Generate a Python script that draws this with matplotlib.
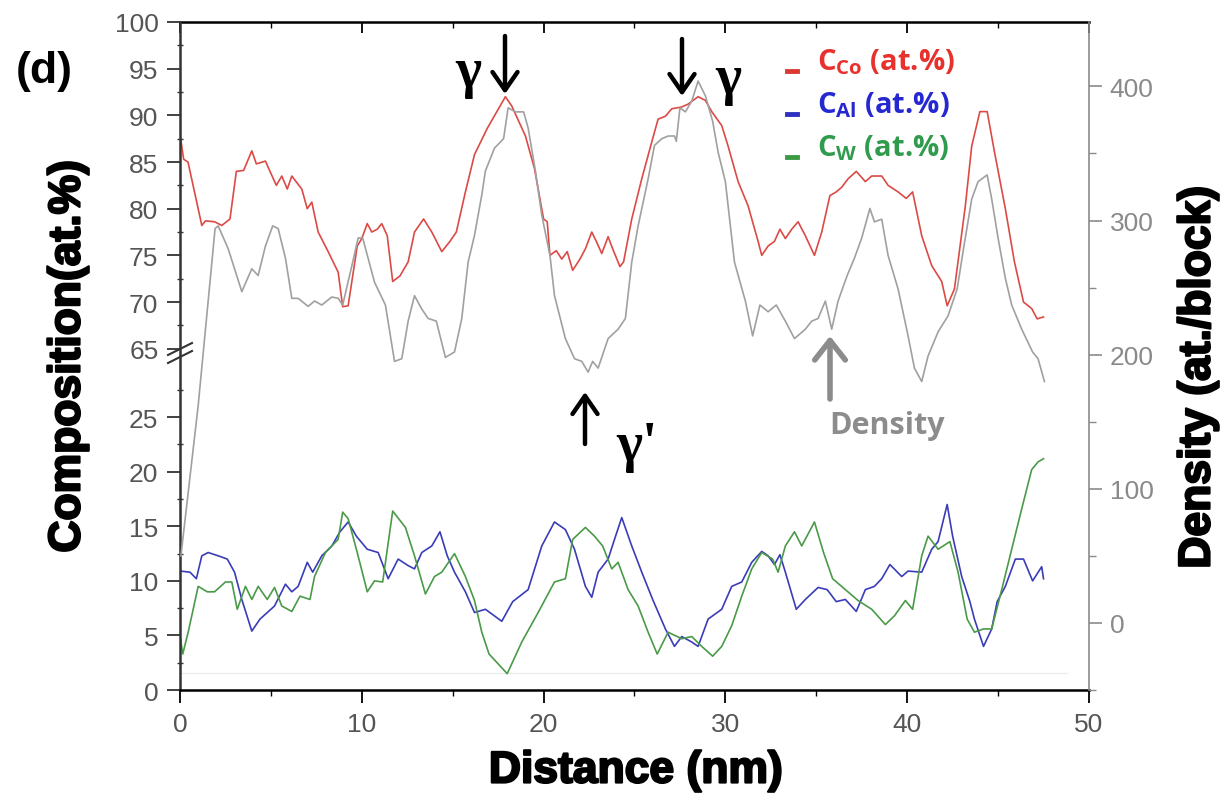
import matplotlib.pyplot as plt
import matplotlib.patheffects as pe
import numpy as np
from matplotlib.lines import Line2D

# composition / density profiles (distance in nm)
CO_PROFILE = [
    (0.0, 88.0), (0.2, 85.3), (0.44, 85.0), (1.2, 78.2), (1.4, 78.7), (1.9, 78.6), (2.3, 78.2),
    (2.75, 78.9), (3.1, 84.0), (3.5, 84.1), (3.95, 86.2), (4.2, 84.8), (4.7, 85.1), (4.95, 84.0),
    (5.3, 82.5), (5.6, 83.5), (5.9, 82.1), (6.15, 83.5), (6.7, 82.1), (7.0, 80.0), (7.25, 80.7),
    (7.6, 77.5), (8.15, 75.4), (8.7, 73.2), (8.95, 69.5), (9.25, 69.6), (9.75, 76.0), (10.0, 76.8),
    (10.3, 78.4), (10.55, 77.5), (10.85, 77.8), (11.1, 78.4), (11.4, 77.1), (11.7, 72.2),
    (12.1, 72.8), (12.55, 74.3), (12.9, 77.5), (13.4, 78.9), (13.85, 77.5), (14.4, 75.4),
    (14.85, 76.5), (15.2, 77.5), (15.7, 81.8), (16.2, 85.8), (16.9, 88.6), (17.9, 92.0),
    (18.25, 91.0), (19.0, 87.8), (19.5, 84.3), (20.0, 78.9), (20.2, 78.6), (20.35, 75.0),
    (20.7, 75.5), (21.0, 74.6), (21.3, 75.4), (21.6, 73.4), (22.0, 74.6), (22.3, 75.7),
    (22.65, 77.5), (22.9, 76.5), (23.2, 75.2), (23.55, 77.0), (23.8, 75.7), (24.2, 73.8),
    (24.4, 74.3), (24.85, 78.9), (25.4, 83.2), (26.0, 87.5), (26.3, 89.6), (26.7, 89.9),
    (27.05, 90.7), (27.6, 90.9), (27.95, 91.2), (28.5, 92.0), (28.9, 91.6), (29.25, 90.4),
    (29.8, 88.9), (30.15, 86.7), (30.7, 82.9), (31.25, 80.3), (31.8, 76.5), (32.0, 75.0),
    (32.35, 76.0), (32.7, 76.5), (33.0, 77.8), (33.3, 76.8), (33.65, 77.8), (34.0, 78.6),
    (34.4, 77.1), (34.9, 75.0), (35.3, 77.5), (35.75, 81.4), (36.1, 81.8), (36.4, 82.3),
    (36.75, 83.2), (37.2, 84.0), (37.7, 82.9), (38.05, 83.5), (38.6, 83.5), (38.95, 82.5),
    (39.5, 81.8), (39.95, 81.1), (40.3, 81.8), (40.8, 77.1), (41.35, 73.9), (41.9, 72.2),
    (42.2, 69.6), (42.6, 71.4), (43.2, 80.3), (43.55, 86.7), (44.0, 90.4), (44.4, 90.4),
    (44.8, 86.1), (45.4, 80.0), (45.9, 74.3), (46.4, 70.0), (46.85, 69.3), (47.15, 68.2),
    (47.5, 68.4),
]

AL_PROFILE = [
    (0.0, 10.9), (0.55, 10.8), (0.9, 10.2), (1.2, 12.3), (1.55, 12.6), (2.1, 12.3), (2.6, 12.0),
    (3.0, 10.8), (3.4, 8.3), (3.95, 5.4), (4.4, 6.5), (4.8, 7.1), (5.2, 7.7), (5.8, 9.7),
    (6.15, 9.0), (6.5, 9.5), (7.0, 11.7), (7.3, 10.8), (7.8, 12.3), (8.35, 13.2), (8.8, 14.5),
    (9.25, 15.4), (9.7, 14.1), (10.3, 12.9), (10.9, 12.6), (11.45, 10.2), (12.0, 12.0),
    (12.55, 11.4), (12.9, 11.1), (13.3, 12.6), (13.85, 13.2), (14.3, 14.5), (14.7, 12.3),
    (15.1, 10.8), (15.7, 9.0), (16.2, 7.1), (16.8, 7.4), (17.7, 6.3), (18.3, 8.1), (19.15, 9.2),
    (19.9, 13.2), (20.6, 15.4), (21.2, 14.7), (21.7, 12.9), (22.3, 9.5), (22.65, 8.5),
    (23.0, 10.8), (23.55, 12.0), (23.9, 13.8), (24.3, 15.8), (24.85, 13.2), (25.4, 10.8),
    (26.0, 8.3), (26.7, 5.6), (27.2, 4.0), (27.6, 4.9), (28.15, 4.4), (28.5, 4.0), (29.05, 6.5),
    (29.8, 7.4), (30.35, 9.5), (30.9, 9.9), (31.45, 11.7), (32.0, 12.7), (32.35, 12.3),
    (32.7, 11.5), (33.0, 12.4), (33.3, 10.8), (33.9, 7.4), (34.4, 8.3), (35.1, 9.4), (35.6, 9.2),
    (36.1, 8.1), (36.6, 8.3), (37.2, 7.2), (37.7, 9.2), (38.2, 9.5), (38.6, 10.2), (39.05, 11.5),
    (39.7, 10.4), (40.05, 10.9), (40.8, 10.8), (41.35, 12.9), (41.7, 13.6), (42.2, 17.0),
    (42.5, 14.1), (43.0, 10.4), (43.45, 8.1), (43.7, 6.5), (44.2, 4.0), (44.65, 5.6),
    (44.95, 8.1), (45.4, 9.5), (45.95, 12.0), (46.4, 12.0), (46.9, 10.0), (47.4, 11.3),
    (47.5, 10.2),
]

W_PROFILE = [
    (0.0, 5.0), (0.15, 3.3), (0.45, 5.3), (1.0, 9.5), (1.5, 9.0), (1.9, 9.0), (2.5, 9.9),
    (2.85, 9.9), (3.15, 7.4), (3.6, 9.5), (3.95, 8.3), (4.3, 9.5), (4.8, 8.3), (5.2, 9.4),
    (5.6, 7.7), (6.15, 7.2), (6.6, 8.6), (7.15, 8.3), (7.4, 10.4), (8.0, 12.6), (8.35, 13.2),
    (8.7, 13.8), (8.95, 16.3), (9.25, 15.7), (9.75, 12.6), (10.3, 9.0), (10.7, 10.0),
    (11.15, 9.9), (11.7, 16.4), (12.4, 14.9), (12.9, 12.3), (13.5, 8.8), (14.0, 10.4),
    (14.4, 10.8), (15.1, 12.5), (15.7, 10.4), (16.2, 8.2), (16.6, 5.3), (17.0, 3.3), (18.0, 1.5),
    (18.8, 4.4), (19.7, 7.1), (20.6, 9.9), (21.2, 10.2), (21.6, 13.8), (22.3, 14.9), (22.8, 14.1),
    (23.25, 13.2), (23.75, 11.1), (24.1, 11.7), (24.65, 9.2), (25.2, 7.7), (25.75, 5.3),
    (26.25, 3.3), (26.85, 5.3), (27.6, 4.7), (28.15, 4.9), (28.7, 4.0), (29.3, 3.1), (29.8, 4.0),
    (30.35, 5.9), (30.9, 8.6), (31.45, 11.1), (32.0, 12.6), (32.6, 12.0), (32.9, 10.8),
    (33.3, 13.2), (33.8, 14.5), (34.2, 13.2), (34.9, 15.4), (35.4, 12.6), (35.9, 10.2),
    (36.6, 9.2), (37.3, 8.2), (38.05, 7.4), (38.8, 6.0), (39.3, 6.8), (39.9, 8.2), (40.3, 7.4),
    (40.8, 12.3), (41.15, 14.1), (41.7, 12.9), (42.35, 13.6), (42.8, 10.8), (43.3, 6.5),
    (43.7, 5.3), (44.2, 5.6), (44.65, 5.6), (45.2, 9.2), (45.75, 12.9), (46.3, 16.6),
    (46.85, 20.2), (47.2, 20.9), (47.5, 21.2),
]

DENSITY_PROFILE = [
    (0.05, 50), (1.0, 162), (1.93, 294), (2.1, 296), (2.65, 279), (3.4, 247), (3.95, 264),
    (4.3, 259), (4.7, 281), (5.1, 296), (5.4, 294), (5.8, 272), (6.15, 242), (6.5, 242),
    (7.05, 236), (7.4, 240), (7.8, 237), (8.35, 243), (8.7, 242), (8.95, 237), (9.5, 269),
    (9.8, 287), (10.05, 287), (10.7, 254), (11.3, 237), (11.8, 195), (12.2, 197), (12.55, 225),
    (12.9, 244), (13.3, 234), (13.65, 227), (14.1, 225), (14.6, 198), (15.1, 202), (15.5, 227),
    (15.85, 269), (16.2, 289), (16.6, 319), (16.8, 337), (17.3, 354), (17.8, 361), (18.05, 384),
    (18.45, 381), (18.9, 381), (19.15, 369), (19.55, 337), (19.9, 304), (20.35, 274),
    (20.6, 244), (21.2, 212), (21.7, 197), (22.1, 195), (22.45, 187), (22.7, 195), (23.0, 190),
    (23.55, 212), (24.1, 219), (24.5, 227), (24.85, 269), (25.2, 296), (25.75, 331),
    (26.1, 356), (26.5, 361), (26.85, 363), (27.2, 363), (27.3, 359), (27.5, 384), (27.8, 381),
    (28.15, 389), (28.5, 404), (28.9, 393), (29.3, 374), (29.6, 351), (30.0, 329), (30.5, 269),
    (31.1, 240), (31.5, 214), (31.9, 237), (32.35, 232), (32.8, 237), (33.3, 225), (33.8, 212),
    (34.4, 219), (34.75, 225), (35.1, 227), (35.5, 240), (35.85, 219), (36.2, 240), (36.7, 259),
    (37.1, 272), (37.5, 287), (37.95, 309), (38.2, 299), (38.6, 301), (38.95, 274), (39.5, 249),
    (40.05, 214), (40.4, 190), (40.8, 180), (41.15, 199), (41.7, 217), (42.25, 229),
    (42.75, 249), (43.1, 279), (43.55, 316), (43.9, 329), (44.4, 334), (44.65, 316), (45.0, 287),
    (45.4, 257), (45.75, 237), (46.3, 219), (46.9, 202), (47.2, 197), (47.55, 180),
]

BASELINE_X = [0.0, 48.8]
BASELINE_Y = [1.56, 1.56]

X_TICKS = [0, 10, 20, 30, 40, 50]
X_MINOR = [5, 15, 25, 35, 45]
LOW_TICKS = [0, 5, 10, 15, 20, 25]
HIGH_TICKS = [65, 70, 75, 80, 85, 90, 95, 100]
LOW_MINOR = [2.5, 7.5, 12.5, 17.5, 22.5, 27.5]
HIGH_MINOR = [67.5, 72.5, 77.5, 82.5, 87.5, 92.5, 97.5]
DENSITY_TICKS = [0, 100, 200, 300, 400]
DENSITY_MINOR = [-50, 50, 150, 250, 350]

LEGEND_ITEMS = [
    (r"C$_{\mathbf{Co}}$ (at.%)", "#d93a34", "#e8302c"),
    (r"C$_{\mathbf{Al}}$ (at.%)", "#2f32c0", "#2528d0"),
    (r"C$_{\mathbf{W}}$ (at.%)", "#3c9a44", "#2f9b4c"),
]

CO_COLOR = "#dc4a45"
AL_COLOR = "#3a3cb8"
W_COLOR = "#4a9a48"
DENSITY_COLOR = "#a0a0a0"
TICK_GREY = "#555555"

plt.rcParams["font.family"] = ["Liberation Sans", "DejaVu Sans"]
plt.rcParams["mathtext.fontset"] = "custom"
plt.rcParams["mathtext.bf"] = "Open Sans:bold"
plt.rcParams["mathtext.rm"] = "Open Sans"

# broken composition axis: 0-31.2 below the break, 65-100 above it
_SRC = [-100.0, 0.0, 31.2, 65.0, 100.0, 200.0]
_DST = [-1092.0, 0.0, 340.7, 341.5, 668.4, 1602.4]


def forward(y):
    return np.interp(np.asarray(y, dtype=float), _SRC, _DST)


def inverse(v):
    return np.interp(np.asarray(v, dtype=float), _DST, _SRC)


def fig_xy(px, py):
    return px / 1232, 1 - py / 804


def unzip(profile):
    xs, ys = zip(*profile)
    return list(xs), list(ys)


fig = plt.figure(figsize=(12.32, 8.04), dpi=100)
ax = fig.add_axes([0.1461, 0.1405, 0.7378, 0.8309])
ax2 = ax.twinx()

ax.set_yscale("function", functions=(forward, inverse))
ax.set_xlim(0, 50)
ax.set_ylim(0, 100)
ax2.set_ylim(-50, 448)

ax.plot(BASELINE_X, BASELINE_Y, color="#ececec", lw=1.0, zorder=1)
x, y = unzip(CO_PROFILE)
ax.plot(x, y, color=CO_COLOR, lw=1.2)
x, y = unzip(AL_PROFILE)
ax.plot(x, y, color=AL_COLOR, lw=1.2)
x, y = unzip(W_PROFILE)
ax.plot(x, y, color=W_COLOR, lw=1.2)
x, y = unzip(DENSITY_PROFILE)
ax2.plot(x, y, color=DENSITY_COLOR, lw=1.2)

# left axis
ax.set_yticks(LOW_TICKS + HIGH_TICKS, labels=[str(t) for t in LOW_TICKS + HIGH_TICKS])
ax.set_yticks(LOW_MINOR + HIGH_MINOR, minor=True)
ax.tick_params(axis="y", which="major", direction="out", length=9.5, width=1.3, pad=6,
               labelsize=19, labelcolor=TICK_GREY, color="#333333")
ax.tick_params(axis="y", which="minor", direction="inout", length=5, width=1.0, color="#333333")

# bottom axis
ax.set_xticks(X_TICKS, labels=[str(t) for t in X_TICKS])
ax.set_xticks(X_MINOR, minor=True)
ax.tick_params(axis="x", which="major", direction="out", length=9, width=1.3, pad=7,
               labelsize=19, labelcolor=TICK_GREY)
ax.tick_params(axis="x", which="minor", direction="out", length=4.5, width=1.0)

top = ax.secondary_xaxis("top")
top.set_xticks(X_TICKS, labels=[])
top.set_xticks(X_MINOR, minor=True)
top.tick_params(which="major", direction="in", length=8, width=1.3)
top.tick_params(which="minor", direction="in", length=4.5, width=1.0)
top.spines["top"].set_linewidth(1.8)

for side in ["left", "bottom"]:
    ax.spines[side].set_linewidth(1.8)
ax.spines["left"].set_color("#333333")
ax.spines["top"].set_visible(False)
ax.spines["right"].set_visible(False)

# right axis
for side in ["left", "top", "bottom"]:
    ax2.spines[side].set_visible(False)
ax2.spines["right"].set_color("#8a8a8a")
ax2.spines["right"].set_linewidth(1.2)
ax2.set_yticks(DENSITY_TICKS, labels=[str(t) for t in DENSITY_TICKS])
ax2.set_yticks(DENSITY_MINOR, minor=True)
ax2.tick_params(axis="y", which="major", direction="out", length=9, width=1.2, pad=6,
                labelsize=19, labelcolor="#8a8a8a", color="#8a8a8a")
ax2.tick_params(axis="y", which="minor", direction="out", length=5, width=1.0, color="#8a8a8a")

# axis break marks on the left spine
for yc in [0.5105, 0.4985]:
    ax.add_line(Line2D([-0.0132, 0.0132], [yc - 0.009, yc + 0.009], transform=ax.transAxes,
                       color="#333333", lw=1.5, clip_on=False))

heavy = [pe.withStroke(linewidth=1.6, foreground="black")]
fig.text(*fig_xy(68, 357), "Composition(at.%)", rotation=90, ha="center", va="center",
         fontsize=32, fontweight="bold", path_effects=heavy)
fig.text(*fig_xy(1198, 378), "Density (at./block)", rotation=90, ha="center", va="center",
         fontsize=32, fontweight="bold", path_effects=heavy)
fig.text(*fig_xy(636, 772), "Distance (nm)", ha="center", va="center",
         fontsize=32, fontweight="bold", path_effects=heavy)
fig.text(*fig_xy(44, 72), "(d)", ha="center", va="center", fontsize=32, fontweight="bold")

# phase annotations
serif = ["Liberation Serif", "DejaVu Serif"]
fig.text(*fig_xy(468, 73), "\u03b3", ha="center", va="center", fontsize=40,
         fontweight="bold", family=serif)
fig.text(*fig_xy(728, 80), "\u03b3", ha="center", va="center", fontsize=40,
         fontweight="bold", family=serif)
fig.text(*fig_xy(637, 447), "\u03b3'", ha="center", va="center", fontsize=40,
         fontweight="bold", family=serif)

arrows = [
    ((505, 37), (505, 95), "black"),
    ((682, 40), (682, 97), "black"),
    ((585, 445), (585, 393), "black"),
]
for (sx, sy), (tx, ty), color in arrows:
    ax.annotate("", xy=fig_xy(tx, ty), xytext=fig_xy(sx, sy), xycoords="figure fraction",
                textcoords="figure fraction",
                arrowprops=dict(arrowstyle="->,head_length=0.65,head_width=0.45", lw=3.2,
                                color=color, mutation_scale=20, shrinkA=0, shrinkB=0))
ax.annotate("", xy=fig_xy(830, 337), xytext=fig_xy(830, 400), xycoords="figure fraction",
            textcoords="figure fraction",
            arrowprops=dict(arrowstyle="->,head_length=0.7,head_width=0.55", lw=4,
                            color="#8c8c8c", mutation_scale=20, shrinkA=0, shrinkB=0))
fig.text(*fig_xy(887, 426), "Density", ha="center", va="center", fontsize=22,
         fontweight="bold", color="#8c8c8c", family=["Open Sans", "DejaVu Sans"])

# hand-made legend
legend_rows = [(70, 72), (113, 115), (156, 158)]
for (label, line_color, text_color), (text_y, dash_y) in zip(LEGEND_ITEMS, legend_rows):
    x0, yd = fig_xy(787, dash_y)
    x1, _ = fig_xy(797, dash_y)
    fig.add_artist(Line2D([x0, x1], [yd, yd], color=line_color, lw=3.5))
    fig.text(*fig_xy(817, text_y), label, ha="left", va="baseline", fontsize=21,
             fontweight="bold", color=text_color, family=["Open Sans", "DejaVu Sans"])

fig.savefig("out.png", dpi=100)
